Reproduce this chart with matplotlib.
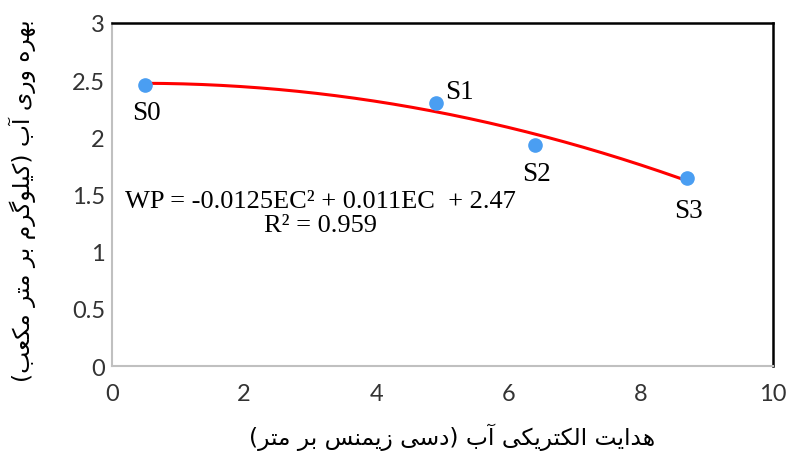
import numpy as np
import matplotlib
matplotlib.use('Agg')
import matplotlib.pyplot as plt

# data
labels = ['S0', 'S1', 'S2', 'S3']
ec = [0.5, 4.9, 6.4, 8.7]
wp = [2.46, 2.30, 1.93, 1.64]
coef = [-0.0125, 0.011, 2.47]
r2 = 0.959

xlabel_fa = 'هدایت الکتریکی آب (دسی زیمنس بر متر)'
ylabel_fa = 'بهره وری آب (کیلوگرم بر متر مکعب)'

# minimal persian shaping (matplotlib has no complex text layout)
FORMS = {
    'ب': (0xFE8F, 0xFE90, 0xFE91, 0xFE92),
    'ت': (0xFE95, 0xFE96, 0xFE97, 0xFE98),
    'س': (0xFEB1, 0xFEB2, 0xFEB3, 0xFEB4),
    'ع': (0xFEC9, 0xFECA, 0xFECB, 0xFECC),
    'ک': (0xFB8E, 0xFB8F, 0xFB90, 0xFB91),
    'گ': (0xFB92, 0xFB93, 0xFB94, 0xFB95),
    'ل': (0xFEDD, 0xFEDE, 0xFEDF, 0xFEE0),
    'م': (0xFEE1, 0xFEE2, 0xFEE3, 0xFEE4),
    'ن': (0xFEE5, 0xFEE6, 0xFEE7, 0xFEE8),
    'ه': (0xFEE9, 0xFEEA, 0xFEEB, 0xFEEC),
    'ی': (0xFBFC, 0xFBFD, 0xFBFE, 0xFBFF),
    'ا': (0xFE8D, 0xFE8E, None, None),
    'آ': (0xFE81, 0xFE82, None, None),
    'د': (0xFEA9, 0xFEAA, None, None),
    'ر': (0xFEAD, 0xFEAE, None, None),
    'ز': (0xFEAF, 0xFEB0, None, None),
    'و': (0xFEED, 0xFEEE, None, None),
}


def dual(c):
    return c in FORMS and FORMS[c][2] is not None


def shape(text):
    out = []
    for i, c in enumerate(text):
        if c not in FORMS:
            out.append(c)
            continue
        prev = text[i - 1] if i > 0 else ''
        nxt = text[i + 1] if i + 1 < len(text) else ''
        jp = dual(prev)
        jn = dual(c) and nxt in FORMS
        f = FORMS[c]
        if jp and jn:
            out.append(chr(f[3]))
        elif jp:
            out.append(chr(f[1]))
        elif jn:
            out.append(chr(f[2]))
        else:
            out.append(chr(f[0]))
    vis = ''.join(reversed(out))
    return vis.translate(str.maketrans('()', ')('))


fig = plt.figure(figsize=(7.88, 4.52), dpi=100)
ax = fig.add_axes([0.142, 0.188, 0.839, 0.759])

xs = np.linspace(min(ec), max(ec), 200)
ax.plot(xs, np.polyval(coef, xs), color='#ff0000', lw=2.2, zorder=2)
ax.plot(ec, wp, 'o', color='#4a9ef2', ms=9.5, zorder=3)

offsets = [(1, -20), (17, 8), (1, -20), (1, -23)]
for lab, x, y, off in zip(labels, ec, wp, offsets):
    ax.annotate(lab, (x, y), xytext=off, textcoords='offset points',
                ha='center', va='center', fontsize=19.5, family='Liberation Serif')

eq = f'WP = {coef[0]}EC² + {coef[1]}EC  + {coef[2]}\nR² = {r2}'
ax.text(3.16, 1.34, eq, ha='center', va='center', fontsize=19,
        family='Liberation Serif', linespacing=1.1)

ax.set_xlim(0, 10)
ax.set_ylim(0, 3)
ax.set_xticks(np.arange(0, 11, 2))
ax.set_yticks(np.arange(0, 3.01, 0.5))
ax.set_yticklabels(['0', '0.5', '1', '1.5', '2', '2.5', '3'])
ax.tick_params(length=0, labelsize=17, colors='#333333')
ax.tick_params(axis='x', pad=12)
ax.tick_params(axis='y', pad=5)
for t in ax.get_xticklabels() + ax.get_yticklabels():
    t.set_family('Lato')

for s in ['left', 'bottom']:
    ax.spines[s].set_color('#c0c0c0')
    ax.spines[s].set_linewidth(1.5)
for s in ['top', 'right']:
    ax.spines[s].set_color('black')
    ax.spines[s].set_linewidth(1.8)

fig.text(0.574, 0.033, shape(xlabel_fa), ha='center', va='center',
         fontsize=16.8, family='DejaVu Sans')
fig.text(0.028, 0.555, shape(ylabel_fa), ha='center', va='center',
         rotation=90, fontsize=16.8, family='DejaVu Sans')

fig.savefig('out.png', dpi=100)
